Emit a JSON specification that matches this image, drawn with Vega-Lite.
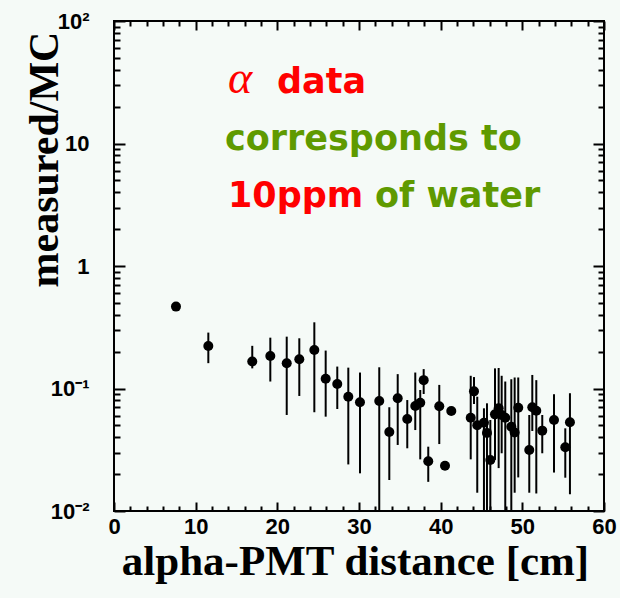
{
  "$schema": "https://vega.github.io/schema/vega-lite/v6.json",
  "width": 490,
  "height": 490,
  "autosize": {"type": "none"},
  "padding": {"left": 114, "top": 21, "right": 16, "bottom": 87},
  "background": "#f5faf7",
  "config": {
    "view": {"stroke": "#000000", "strokeWidth": 2, "fill": "#f5faf7"},
    "axis": {"domain": false, "grid": false, "tickColor": "#000000", "tickWidth": 2, "labelColor": "#000000", "titleColor": "#000000"}
  },
  "datasets": {
    "pts": [
      {"x": 7.59, "y": 0.466, "lo": 0.455, "hi": 0.478},
      {"x": 11.55, "y": 0.222, "lo": 0.161, "hi": 0.286},
      {"x": 16.93, "y": 0.166, "lo": 0.146, "hi": 0.223},
      {"x": 19.14, "y": 0.184, "lo": 0.114, "hi": 0.260},
      {"x": 21.15, "y": 0.161, "lo": 0.0608, "hi": 0.265},
      {"x": 22.69, "y": 0.173, "lo": 0.0869, "hi": 0.257},
      {"x": 24.53, "y": 0.206, "lo": 0.064, "hi": 0.347},
      {"x": 25.92, "y": 0.120, "lo": 0.0589, "hi": 0.204},
      {"x": 27.34, "y": 0.109, "lo": 0.068, "hi": 0.151},
      {"x": 28.69, "y": 0.0857, "lo": 0.024, "hi": 0.148},
      {"x": 30.12, "y": 0.0771, "lo": 0.0203, "hi": 0.135},
      {"x": 32.48, "y": 0.0791, "lo": 0.005, "hi": 0.149},
      {"x": 33.71, "y": 0.0442, "lo": 0.0179, "hi": 0.0703},
      {"x": 34.74, "y": 0.0832, "lo": 0.0346, "hi": 0.131},
      {"x": 35.91, "y": 0.0564, "lo": 0.0325, "hi": 0.0805},
      {"x": 36.89, "y": 0.0719, "lo": 0.0458, "hi": 0.135},
      {"x": 37.5, "y": 0.0766, "lo": 0.0264, "hi": 0.0972},
      {"x": 37.92, "y": 0.117, "lo": 0.0902, "hi": 0.144},
      {"x": 38.48, "y": 0.0255, "lo": 0.0173, "hi": 0.0335},
      {"x": 39.83, "y": 0.0716, "lo": 0.0352, "hi": 0.107},
      {"x": 40.53, "y": 0.0234, "lo": 0.0234, "hi": 0.0234},
      {"x": 41.3, "y": 0.0655, "lo": 0.0655, "hi": 0.0655},
      {"x": 43.68, "y": 0.0578, "lo": 0.0264, "hi": 0.127},
      {"x": 44.08, "y": 0.0948, "lo": 0.0747, "hi": 0.124},
      {"x": 44.48, "y": 0.0501, "lo": 0.0141, "hi": 0.0857},
      {"x": 45.3, "y": 0.0526, "lo": 0.005, "hi": 0.0689},
      {"x": 45.67, "y": 0.0434, "lo": 0.005, "hi": 0.0757},
      {"x": 46.08, "y": 0.0261, "lo": 0.005, "hi": 0.0553},
      {"x": 46.65, "y": 0.0615, "lo": 0.0261, "hi": 0.146},
      {"x": 47.1, "y": 0.0689, "lo": 0.0224, "hi": 0.147},
      {"x": 47.47, "y": 0.0608, "lo": 0.0296, "hi": 0.127},
      {"x": 47.91, "y": 0.0578, "lo": 0.005, "hi": 0.114},
      {"x": 48.65, "y": 0.0488, "lo": 0.005, "hi": 0.119},
      {"x": 49.06, "y": 0.0438, "lo": 0.0141, "hi": 0.123},
      {"x": 49.5, "y": 0.0697, "lo": 0.0188, "hi": 0.123},
      {"x": 50.85, "y": 0.0315, "lo": 0.0141, "hi": 0.0608},
      {"x": 51.22, "y": 0.0703, "lo": 0.045, "hi": 0.129},
      {"x": 51.71, "y": 0.0659, "lo": 0.0139, "hi": 0.117},
      {"x": 52.44, "y": 0.0453, "lo": 0.0296, "hi": 0.0608},
      {"x": 53.88, "y": 0.0553, "lo": 0.0206, "hi": 0.0898},
      {"x": 55.26, "y": 0.0331, "lo": 0.0187, "hi": 0.0473},
      {"x": 55.83, "y": 0.053, "lo": 0.0137, "hi": 0.0915}
    ],
    "notes": [
      {"x": 13.96, "y": 25.8, "text": "α", "kind": "alpha"},
      {"x": 19.96, "y": 25.8, "text": "data", "kind": "red"},
      {"x": 13.59, "y": 8.85, "text": "corresponds to", "kind": "green"},
      {"x": 13.96, "y": 3.03, "text": "10ppm", "kind": "red"},
      {"x": 31.96, "y": 3.03, "text": "of water", "kind": "green"}
    ]
  },
  "resolve": {"axis": {"x": "independent", "y": "independent"}},
  "layer": [
    {
      "data": {"name": "pts"},
      "mark": {"type": "rule", "color": "#000000", "strokeWidth": 2, "clip": true},
      "encoding": {
        "x": {
          "field": "x", "type": "quantitative",
          "scale": {"domain": [0, 60], "nice": false, "zero": false},
          "axis": {
            "orient": "bottom", "values": [0, 10, 20, 30, 40, 50, 60], "tickSize": -9,
            "labelFont": "Liberation Sans", "labelFontWeight": "bold", "labelFontSize": 22, "labelPadding": 14, "labelFlush": false,
            "title": "alpha-PMT distance [cm]", "titleFont": "Liberation Serif", "titleFontWeight": "bold", "titleFontSize": 43,
            "titleX": 241, "titleY": 63, "titleAlign": "center", "titleBaseline": "alphabetic"
          }
        },
        "y": {
          "field": "lo", "type": "quantitative",
          "scale": {"type": "log", "domain": [0.01, 100], "nice": false},
          "axis": {
            "orient": "left", "values": [0.01, 0.1, 1, 10, 100], "tickSize": -11,
            "labelExpr": "datum.value > 50 ? '10²' : datum.value > 5 ? '10' : datum.value > 0.5 ? '1' : datum.value > 0.05 ? '10⁻¹' : '10⁻²'",
            "labelFont": "Liberation Sans", "labelFontWeight": "bold", "labelFontSize": 22, "labelPadding": 36, "labelAlign": "right", "labelBaseline": "middle", "labelFlush": false,
            "title": "measured/MC", "titleFont": "Liberation Serif", "titleFontWeight": "bold", "titleFontSize": 42,
            "titleX": -57, "titleY": 138, "titleAngle": -90, "titleAlign": "center", "titleBaseline": "alphabetic"
          }
        },
        "y2": {"field": "hi"}
      }
    },
    {
      "data": {"name": "pts"},
      "mark": {"type": "point", "filled": true, "color": "#000000", "size": 100, "opacity": 1},
      "encoding": {
        "x": {
          "field": "x", "type": "quantitative",
          "scale": {"domain": [0, 60], "nice": false, "zero": false},
          "axis": {"orient": "bottom", "values": [2, 4, 6, 8, 12, 14, 16, 18, 22, 24, 26, 28, 32, 34, 36, 38, 42, 44, 46, 48, 52, 54, 56, 58], "tickSize": -5, "labels": false, "title": null}
        },
        "y": {
          "field": "y", "type": "quantitative",
          "scale": {"type": "log", "domain": [0.01, 100], "nice": false},
          "axis": {"orient": "left", "values": [0.02, 0.03, 0.04, 0.05, 0.06, 0.07, 0.08, 0.09, 0.2, 0.3, 0.4, 0.5, 0.6, 0.7, 0.8, 0.9, 2, 3, 4, 5, 6, 7, 8, 9, 20, 30, 40, 50, 60, 70, 80, 90], "tickSize": -6, "labels": false, "title": null}
        }
      }
    },
    {
      "data": {"name": "notes"},
      "transform": [{"filter": "datum.kind == 'red'"}],
      "mark": {"type": "text", "align": "left", "baseline": "alphabetic", "font": "DejaVu Sans", "fontWeight": "bold", "fontSize": 35, "color": "#ff0000"},
      "encoding": {
        "x": {
          "field": "x", "type": "quantitative",
          "scale": {"domain": [0, 60], "nice": false, "zero": false},
          "axis": {"orient": "top", "values": [0, 10, 20, 30, 40, 50, 60], "tickSize": -9, "labels": false, "title": null}
        },
        "y": {
          "field": "y", "type": "quantitative",
          "scale": {"type": "log", "domain": [0.01, 100], "nice": false},
          "axis": {"orient": "right", "values": [0.01, 0.1, 1, 10, 100], "tickSize": -11, "labels": false, "title": null}
        },
        "text": {"field": "text"}
      }
    },
    {
      "data": {"name": "notes"},
      "transform": [{"filter": "datum.kind == 'green'"}],
      "mark": {"type": "text", "align": "left", "baseline": "alphabetic", "font": "DejaVu Sans", "fontWeight": "bold", "fontSize": 35, "color": "#5f9a00"},
      "encoding": {
        "x": {
          "field": "x", "type": "quantitative",
          "scale": {"domain": [0, 60], "nice": false, "zero": false},
          "axis": {"orient": "top", "values": [2, 4, 6, 8, 12, 14, 16, 18, 22, 24, 26, 28, 32, 34, 36, 38, 42, 44, 46, 48, 52, 54, 56, 58], "tickSize": -5, "labels": false, "title": null}
        },
        "y": {
          "field": "y", "type": "quantitative",
          "scale": {"type": "log", "domain": [0.01, 100], "nice": false},
          "axis": {"orient": "right", "values": [0.02, 0.03, 0.04, 0.05, 0.06, 0.07, 0.08, 0.09, 0.2, 0.3, 0.4, 0.5, 0.6, 0.7, 0.8, 0.9, 2, 3, 4, 5, 6, 7, 8, 9, 20, 30, 40, 50, 60, 70, 80, 90], "tickSize": -6, "labels": false, "title": null}
        },
        "text": {"field": "text"}
      }
    },
    {
      "data": {"name": "notes"},
      "transform": [{"filter": "datum.kind == 'alpha'"}],
      "mark": {"type": "text", "align": "left", "baseline": "alphabetic", "font": "Liberation Serif", "fontStyle": "italic", "fontSize": 46, "color": "#ff0000"},
      "encoding": {
        "x": {"field": "x", "type": "quantitative", "scale": {"domain": [0, 60], "nice": false, "zero": false}, "axis": null},
        "y": {"field": "y", "type": "quantitative", "scale": {"type": "log", "domain": [0.01, 100], "nice": false}, "axis": null},
        "text": {"field": "text"}
      }
    }
  ]
}
